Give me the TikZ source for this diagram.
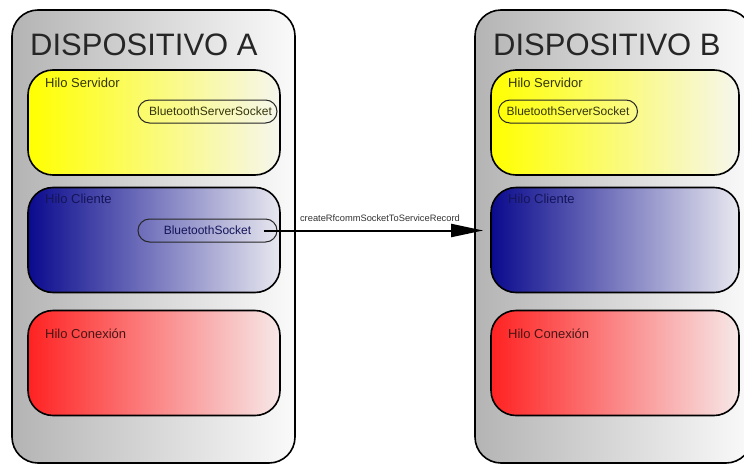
\documentclass[tikz,border=0pt]{standalone}
\usepackage{fontspec}
\setmainfont{Liberation Sans}
\usetikzlibrary{arrows.meta}

\definecolor{devleft}{HTML}{B4B4B4}
\definecolor{devright}{HTML}{FAFAFA}
\definecolor{srvleft}{HTML}{FFFF00}
\definecolor{srvright}{HTML}{F6F6EE}
\definecolor{clileft}{HTML}{0A0A8E}
\definecolor{cliright}{HTML}{E8E8F0}
\definecolor{conleft}{HTML}{FF2222}
\definecolor{conright}{HTML}{F7E8E8}
\definecolor{srvtext}{HTML}{35350A}
\definecolor{clitext}{HTML}{14145A}
\definecolor{context}{HTML}{4A1414}
\definecolor{labeltext}{HTML}{333333}

\tikzset{
  device/.style={draw=black, line width=1.6pt, rounded corners=26pt,
    left color=devleft, right color=devright, minimum width=#1, minimum height=453pt},
  thread/.style={draw=black, line width=1.6pt, rounded corners=25pt,
    minimum height=105pt, minimum width=#1},
  server/.style={thread=#1, left color=srvleft, right color=srvright},
  client/.style={thread=#1, left color=clileft, right color=cliright},
  connection/.style={thread=#1, left color=conleft, right color=conright},
  pill/.style={draw=black!85, line width=1pt, rounded corners=11.5pt,
    minimum width=139pt, minimum height=23pt, inner sep=0pt, font=\fontsize{12}{14}\selectfont},
  devtitle/.style={anchor=base west, inner sep=0pt, text=black!85,
    font=\fontsize{31}{36}\selectfont},
  threadlabel/.style={anchor=base west, inner sep=0pt, font=\fontsize{13}{15}\selectfont},
}

\begin{document}
\begin{tikzpicture}[x=1pt,y=-1pt]
  \useasboundingbox (0,0) rectangle (744,466);

  % device A
  \node[device=283pt] (devA) at (153.5,236.5) {};
  \node[devtitle] (titleA) at (30,55) {DISPOSITIVO A};
  \node[server=252pt] (srvA) at (154,122.5) {};
  \node[client=252pt] (cliA) at (154,240) {};
  \node[connection=252pt] (conA) at (154,363) {};
  \node[threadlabel, text=srvtext] (srvAlbl) at (45,87) {Hilo Servidor};
  \node[threadlabel, text=clitext] (cliAlbl) at (45,203) {Hilo Cliente};
  \node[threadlabel, text=context] (conAlbl) at (45,338) {Hilo Conexión};
  \node[pill, text=srvtext] (ssockA) at (207.5,111.5) {\hspace*{6pt}BluetoothServerSocket};
  \node[pill, text=clitext] (sockA) at (207.5,230.5) {BluetoothSocket};

  % device B
  \node[device=277pt] (devB) at (613.5,236.5) {};
  \node[devtitle] (titleB) at (493,55) {DISPOSITIVO B};
  \node[server=248pt] (srvB) at (615,122.5) {};
  \node[client=248pt] (cliB) at (615,240) {};
  \node[connection=248pt] (conB) at (615,363) {};
  \node[threadlabel, text=srvtext] (srvBlbl) at (508,87) {Hilo Servidor};
  \node[threadlabel, text=clitext] (cliBlbl) at (508,203) {Hilo Cliente};
  \node[threadlabel, text=context] (conBlbl) at (508,338) {Hilo Conexión};
  \node[pill, text=srvtext] (ssockB) at (568,111.5) {BluetoothServerSocket};

  % connection request from the client socket of A to the client thread of B
  \draw[line width=2pt, -{Triangle[length=32pt,width=13pt]}]
    ([xshift=-14pt]sockA.east) -- ([xshift=-7pt]cliB.west |- sockA.east)
    node[pos=0.53, above=8pt, inner sep=0pt, text=labeltext,
         font=\fontsize{9.3}{11}\selectfont] (call) {createRfcommSocketToServiceRecord};
\end{tikzpicture}
\end{document}
